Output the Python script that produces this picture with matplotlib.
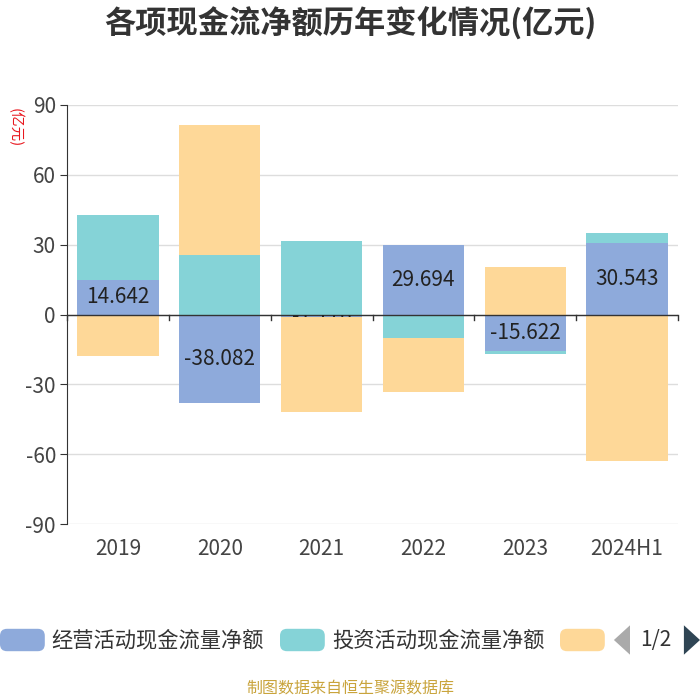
import numpy as np
import matplotlib
matplotlib.use("Agg")
import matplotlib.pyplot as plt
import matplotlib.patches as patches

plt.rcParams['font.family'] = ['Noto Sans CJK SC', 'DejaVu Sans']

# data (亿元)
years = ["2019", "2020", "2021", "2022", "2023", "2024H1"]
series_names = ["经营活动现金流量净额", "投资活动现金流量净额", "筹资活动现金流量净额"]
operating = [14.642, -38.082, -1.176, 29.694, -15.622, 30.543]
investing = [28.2, 25.6, 31.7, -10.2, -1.5, 4.6]
financing = [-17.7, 55.8, -40.7, -23.0, 20.3, -62.9]
colors = ["#8eaadb", "#85d3d7", "#fed898"]
yticks = [-90, -60, -30, 0, 30, 60, 90]

fig = plt.figure(figsize=(7, 7), dpi=100)
ax = fig.add_axes([0.0957, 0.2514, 0.8729, 0.5986])

x = np.arange(len(years))
pos = np.zeros(len(years))
neg = np.zeros(len(years))
bar_sets = []
for vals, c in zip([operating, investing, financing], colors):
    vals = np.array(vals)
    bottoms = np.where(vals >= 0, pos, neg)
    bars = ax.bar(x, vals, bottom=bottoms, width=0.8, color=c, zorder=2)
    bar_sets.append(bars)
    pos = pos + np.where(vals >= 0, vals, 0)
    neg = neg + np.where(vals < 0, vals, 0)

# value labels on the operating series, clipped to their bar
for rect, v in zip(bar_sets[0], operating):
    cy = rect.get_y() + rect.get_height() / 2
    t = ax.text(rect.get_x() + rect.get_width() / 2, cy, f"{v:g}",
                ha="center", va="center", fontsize=15, color="#222222", zorder=5)
    t.set_clip_on(True)
    t.set_clip_path(rect)

ax.set_xlim(-0.5, len(years) - 0.5)
ax.set_ylim(-90, 90)
ax.set_yticks(yticks)
ax.set_yticklabels([str(t) for t in yticks], fontsize=15, color="#444444")
ax.yaxis.grid(True, color="#dddddd", linewidth=1, zorder=0)
ax.set_axisbelow(True)
ax.set_xticks([])
for s in ["top", "right", "bottom"]:
    ax.spines[s].set_visible(False)
ax.spines["left"].set_color("#333333")
ax.tick_params(axis="y", length=5, color="#333333", pad=3)

# x axis on zero line with ticks at category boundaries
ax.axhline(0, color="#333333", linewidth=1, zorder=3)
for b in np.arange(len(years) + 1) - 0.5:
    ax.plot([b, b], [0, -2.2], color="#333333", linewidth=1, zorder=3, clip_on=False)
for xi, lab in zip(x, years):
    ax.text(xi, -96, lab, ha="center", va="top", fontsize=15, color="#444444")

fig.text(0.5, 0.966, "各项现金流净额历年变化情况(亿元)", ha="center", va="center",
         fontsize=22.5, fontweight="bold", color="#333333")
fig.text(0.021, 0.818, "(亿元)", rotation=-90, ha="center", va="center",
         fontsize=10.5, color="#e8161d")

# legend (first page)
ly = 1 - 640 / 700
lx = [0, 0.40, 0.80]
for i, (name, c) in enumerate(zip(series_names, colors)):
    fig.patches.append(patches.FancyBboxPatch(
        (lx[i], ly - 0.016), 0.064, 0.032, boxstyle="round,pad=0,rounding_size=0.01",
        transform=fig.transFigure, facecolor=c, edgecolor="none"))
    if i < 2:
        fig.text(lx[i] + 0.074, ly, name, ha="left", va="center", fontsize=15.3, color="#333333")
fig.patches.append(patches.Polygon([[0.877, ly], [0.900, ly + 0.021], [0.900, ly - 0.021]],
                                   closed=True, transform=fig.transFigure,
                                   facecolor="#aaaaaa", edgecolor="none"))
fig.text(0.937, ly, "1/2", ha="center", va="center", fontsize=15, color="#333333")
fig.patches.append(patches.Polygon([[0.977, ly + 0.021], [1.0, ly], [0.977, ly - 0.021]],
                                   closed=True, transform=fig.transFigure,
                                   facecolor="#2f4554", edgecolor="none"))

fig.text(0.5, 1 - 689 / 700, "制图数据来自恒生聚源数据库", ha="center", va="center",
         fontsize=11.5, color="#c9a43c")

fig.savefig("out.png", dpi=100)
